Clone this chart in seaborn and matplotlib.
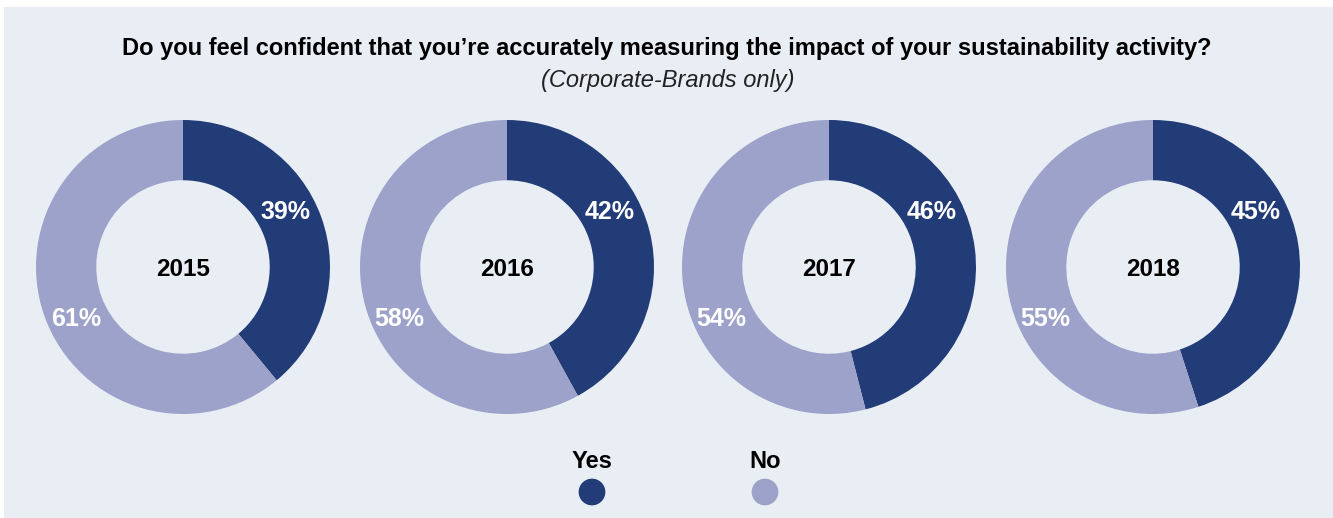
import matplotlib
matplotlib.use("Agg")
import matplotlib.pyplot as plt
from matplotlib.patches import Rectangle
import seaborn as sns

# Survey results (share of respondents, %)
years = ["2015", "2016", "2017", "2018"]
yes_pct = [39, 42, 46, 45]
no_pct = [61, 58, 54, 55]
series_names = ["Yes", "No"]

title = "Do you feel confident that you\u2019re accurately measuring the impact of your sustainability activity?"
subtitle = "(Corporate-Brands only)"

sns.set_theme(style="white")
plt.rcParams["font.family"] = ["Liberation Sans", "DejaVu Sans"]

palette = sns.color_palette(["#223c78", "#9ca2c9"])
panel_bg = "#e9eef5"

W, H = 1333, 518
fig = plt.figure(figsize=(W / 100, H / 100), dpi=100, facecolor="white")

# Full-figure overlay in pixel coordinates for the panel, titles and legend
base = fig.add_axes([0, 0, 1, 1])
base.set_xlim(0, W)
base.set_ylim(H, 0)
base.axis("off")
base.add_patch(Rectangle((4, 7), W, H, facecolor=panel_bg, edgecolor="none", zorder=0))

base.text(667, 48, title, ha="center", va="center", fontsize=17, fontweight="bold", color="black")
base.text(668, 80, subtitle, ha="center", va="center", fontsize=17, fontstyle="italic", color="#222222")

# Donuts
centers_x = [183, 507, 829, 1153]
center_y = 267
radius_px = 147
ring_width = 0.41

for cx, yr, y_val, n_val in zip(centers_x, years, yes_pct, no_pct):
    ax = fig.add_axes([(cx - radius_px) / W, 1 - (center_y + radius_px) / H,
                       2 * radius_px / W, 2 * radius_px / H])
    ax.set_facecolor("none")
    ax.pie([y_val, n_val], colors=palette, startangle=90, counterclock=False,
           radius=1.0, wedgeprops=dict(width=ring_width, edgecolor="none", linewidth=0))
    ax.set_xlim(-1, 1)
    ax.set_ylim(-1, 1)
    ax.set_aspect("equal")
    ax.axis("off")
    ax.text(0, -0.02, yr, ha="center", va="center", fontsize=17.5, fontweight="bold", color="black")
    ax.text(0.70, 0.375, f"{y_val}%", ha="center", va="center", fontsize=18,
            fontweight="bold", color="white")
    ax.text(-0.73, -0.355, f"{n_val}%", ha="center", va="center", fontsize=18,
            fontweight="bold", color="white")

# Legend
legend_x = [592, 765]
for lx, name, col in zip(legend_x, series_names, palette):
    base.text(lx, 462, name, ha="center", va="center", fontsize=17, fontweight="bold", color="black")
    base.scatter([lx], [492], s=370, color=col, edgecolors="none", zorder=3)

fig.savefig("out.png", dpi=100, facecolor=fig.get_facecolor())
